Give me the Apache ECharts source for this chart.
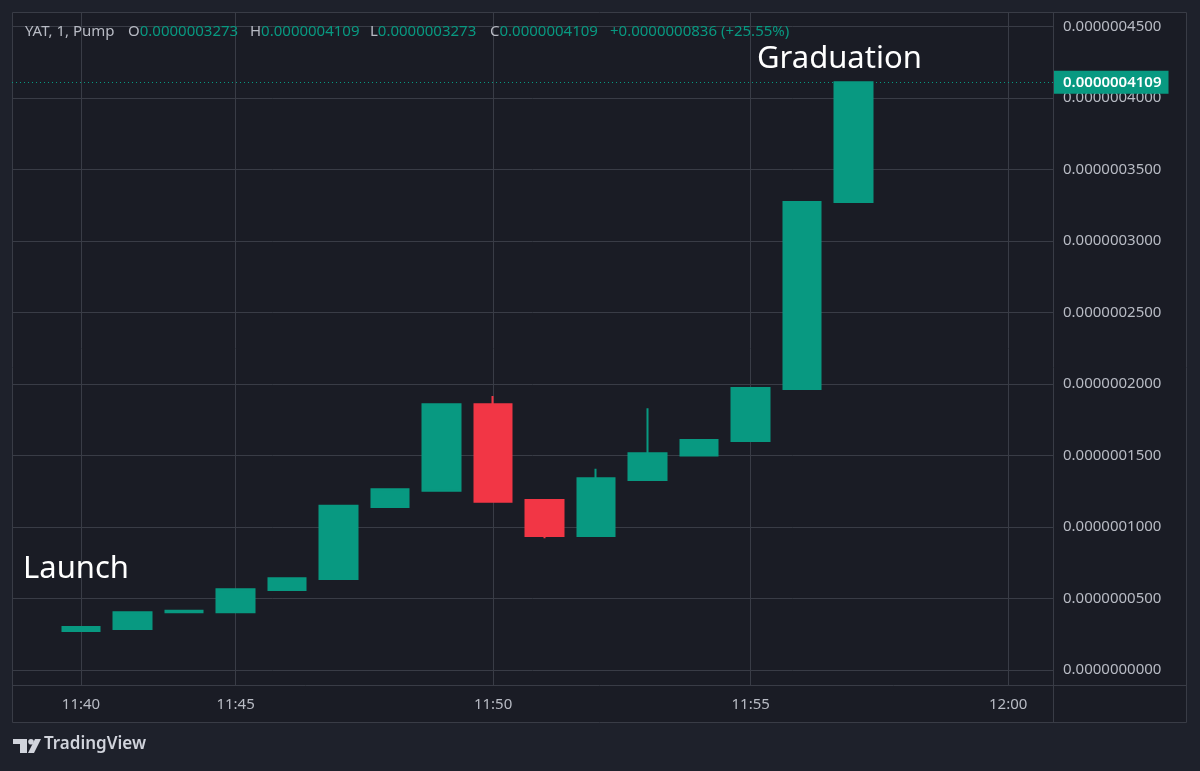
<!DOCTYPE html>
<html>
<head>
<meta charset="utf-8">
<script src="https://cdn.jsdelivr.net/npm/echarts@6/dist/echarts.min.js"></script>
<style>
html,body{margin:0;padding:0;background:#1e212b;}
#c{width:1200px;height:771px;}
</style>
</head>
<body>
<div id="c"></div>
<script>
// ---- data ----
const barIndex = [0, 1, 2, 3, 4, 5, 6, 7, 8, 9, 10, 11, 12, 13, 14, 15];
const opens  = [0.0000000273, 0.0000000287, 0.0000000403, 0.0000000403, 0.0000000559, 0.0000000636, 0.0000001140, 0.0000001254, 0.0000001858, 0.0000001189, 0.0000000937, 0.0000001329, 0.0000001499, 0.0000001601, 0.0000001965, 0.0000003273];
const closes = [0.0000000300, 0.0000000403, 0.0000000415, 0.0000000564, 0.0000000641, 0.0000001149, 0.0000001264, 0.0000001858, 0.0000001177, 0.0000000937, 0.0000001341, 0.0000001515, 0.0000001608, 0.0000001972, 0.0000003273, 0.0000004109];
const lows   = [0.0000000273, 0.0000000287, 0.0000000403, 0.0000000403, 0.0000000559, 0.0000000636, 0.0000001140, 0.0000001254, 0.0000001177, 0.0000000921, 0.0000000937, 0.0000001329, 0.0000001499, 0.0000001601, 0.0000001965, 0.0000003273];
const highs  = [0.0000000300, 0.0000000403, 0.0000000415, 0.0000000564, 0.0000000641, 0.0000001149, 0.0000001264, 0.0000001858, 0.0000001916, 0.0000001189, 0.0000001408, 0.0000001830, 0.0000001608, 0.0000001972, 0.0000003273, 0.0000004109];

const timeTickIndex = [0, 3, 8, 13, 18];
const timeTickLabels = ['11:40', '11:45', '11:50', '11:55', '12:00'];
const priceTicks = [0, 0.00000005, 0.0000001, 0.00000015, 0.0000002, 0.00000025, 0.0000003, 0.00000035, 0.0000004, 0.00000045];

const lastPrice = 0.0000004109;
const headerTitle = 'YAT, 1, Pump';
const headerO = '0.0000003273';
const headerH = '0.0000004109';
const headerL = '0.0000003273';
const headerC = '0.0000004109';
const headerChange = '+0.0000000836 (+25.55%)';
const noteLaunch = 'Launch';
const noteGraduation = 'Graduation';

// ---- styles ----
const UP = '#089981', DOWN = '#f23645';
const GRIDC = '#393c46', TXT = '#b8bbc4';
const FONT = '"Noto Sans", sans-serif';

const candleData = barIndex.map((x, i) => [x, opens[i], closes[i], lows[i], highs[i]]);

const chart = echarts.init(document.getElementById('c'), null, {renderer: 'canvas'});

function hdr(letter, value, x) {
  return {
    type: 'text', left: x, top: 24, z: 10,
    style: {
      text: '{g|' + letter + '}{v|' + value + '}',
      rich: {
        g: {fill: TXT, fontSize: 15, fontFamily: FONT},
        v: {fill: UP, fontSize: 15, fontFamily: FONT}
      }
    }
  };
}

chart.setOption({
  backgroundColor: '#1e212b',
  animation: false,
  grid: {left: 12, top: 12, right: 147, bottom: 86, outerBoundsMode: 'none', show: false},
  xAxis: {
    type: 'value', min: -1.34, max: 18.87,
    axisLine: {show: false},
    axisTick: {show: false, customValues: timeTickIndex},
    axisLabel: {
      customValues: timeTickIndex,
      color: TXT, fontSize: 15, fontFamily: FONT, margin: 12,
      formatter: v => timeTickLabels[timeTickIndex.indexOf(Math.round(v))] || ''
    },
    splitLine: {show: true, lineStyle: {color: GRIDC, width: 1}}
  },
  yAxis: {
    type: 'value', position: 'right',
    min: -0.0000000105, max: 0.0000004601,
    axisLine: {show: false},
    axisTick: {show: false, customValues: priceTicks},
    axisLabel: {
      customValues: priceTicks,
      color: TXT, fontSize: 15, fontFamily: FONT, margin: 10,
      formatter: v => v.toFixed(10)
    },
    splitLine: {show: true, lineStyle: {color: GRIDC, width: 1}}
  },
  series: [{
    type: 'candlestick',
    data: candleData,
    barWidth: 38,
    z: 3,
    itemStyle: {color: UP, color0: DOWN, borderColor: UP, borderColor0: DOWN, borderWidth: 2}
  }, {
    type: 'line',
    data: [],
    z: 4,
    markLine: {
      silent: true, animation: false,
      precision: 12,
      symbol: ['none', 'none'],
      lineStyle: {color: UP, type: [1, 3], width: 1},
      label: {
        show: true, position: 'end', distance: 1,
        formatter: () => lastPrice.toFixed(10),
        color: '#ffffff', fontSize: 15, fontFamily: FONT, fontWeight: 600,
        backgroundColor: UP, padding: [3, 7, 3, 9], lineHeight: 17
      },
      emphasis: {disabled: true},
      data: [{yAxis: lastPrice}]
    }
  }],
  graphic: [
    {type: 'rect', z: -10, shape: {x: 12.5, y: 12.5, width: 1174, height: 710},
      style: {fill: '#1a1c25', stroke: GRIDC, lineWidth: 1}},
    {type: 'line', z: 1, shape: {x1: 1053.5, y1: 12, x2: 1053.5, y2: 723}, style: {stroke: GRIDC, lineWidth: 1}},
    {type: 'line', z: 1, shape: {x1: 12, y1: 685.5, x2: 1187, y2: 685.5}, style: {stroke: GRIDC, lineWidth: 1}},
    {type: 'text', left: 25, top: 24, z: 10, style: {text: headerTitle, fill: TXT, fontSize: 15, fontFamily: FONT}},
    hdr('O', headerO, 128),
    hdr('H', headerH, 250),
    hdr('L', headerL, 370),
    hdr('C', headerC, 490),
    {type: 'text', left: 610, top: 24, z: 10, style: {text: headerChange, fill: UP, fontSize: 15, fontFamily: FONT}},
    {type: 'text', left: 757, top: 44, z: 10, style: {text: noteGraduation, fill: '#ffffff', fontSize: 31, fontFamily: FONT}},
    {type: 'text', left: 23, top: 554, z: 10, style: {text: noteLaunch, fill: '#ffffff', fontSize: 31, fontFamily: FONT}},
    // TradingView logo
    {type: 'group', left: 13, top: 739, z: 10, children: [
      {type: 'rect', shape: {x: 0, y: 0, width: 14, height: 5}, style: {fill: '#d1d4dc'}},
      {type: 'rect', shape: {x: 7, y: 0, width: 7, height: 14}, style: {fill: '#d1d4dc'}},
      {type: 'circle', shape: {cx: 18, cy: 2.8, r: 2.8}, style: {fill: '#d1d4dc'}},
      {type: 'polygon', shape: {points: [[22, 0], [28, 0], [21, 14], [15, 14]]}, style: {fill: '#d1d4dc'}}
    ]},
    {type: 'text', left: 44, top: 736, z: 10, style: {text: 'TradingView', fill: '#d1d4dc', fontSize: 17, fontWeight: 600, fontFamily: FONT}}
  ]
});
</script>
</body>
</html>
